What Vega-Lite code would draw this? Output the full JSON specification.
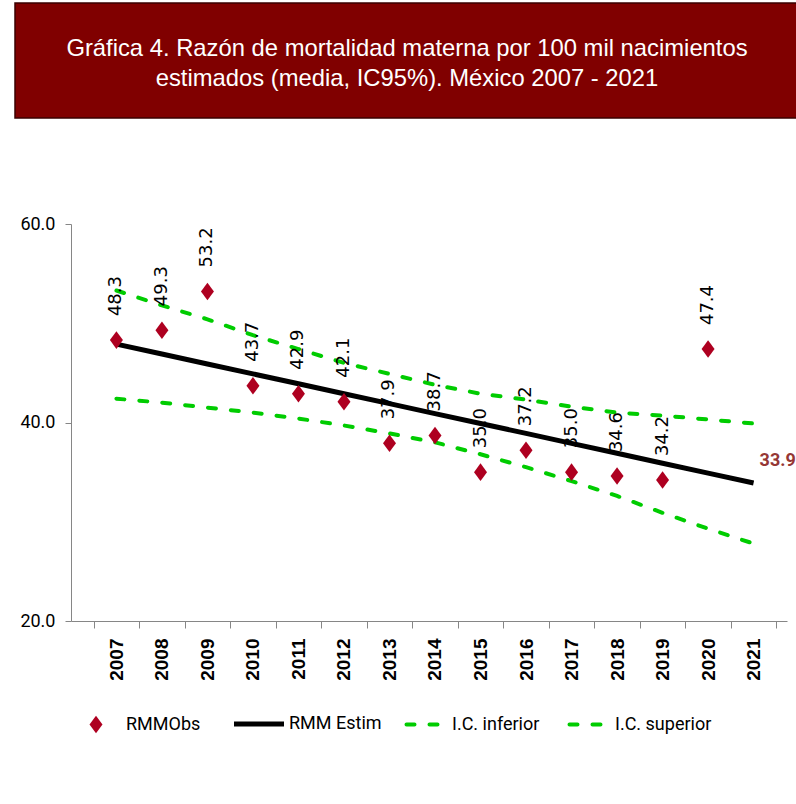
{
  "$schema": "https://vega.github.io/schema/vega-lite/v6.json",
  "background": "white",
  "padding": {"left": 6, "top": 2, "right": 0, "bottom": 0},
  "spacing": 96,
  "config": {"view": {"stroke": null}},
  "vconcat": [
    {
      "width": 784,
      "height": 115,
      "view": {"fill": "#800000", "stroke": "#3a0000", "strokeWidth": 1.5},
      "data": {"values": [
        {"linea": 1, "texto": "Gráfica 4. Razón de mortalidad materna por 100 mil nacimientos"},
        {"linea": 2, "texto": "estimados (media, IC95%). México 2007 - 2021"}
      ]},
      "mark": {"type": "text", "clip": true, "color": "#ffffff", "font": "Liberation Sans", "fontSize": 23.8, "baseline": "middle", "align": "center"},
      "encoding": {
        "y": {"field": "linea", "type": "ordinal", "axis": null, "scale": {"type": "point", "range": [46, 76], "padding": 0}},
        "text": {"field": "texto"}
      }
    },
    {
      "width": 772,
      "height": 397,
      "data": {"values": [
        {"anio": "2007", "serie": "RMMObs", "valor": 48.3},
        {"anio": "2008", "serie": "RMMObs", "valor": 49.3},
        {"anio": "2009", "serie": "RMMObs", "valor": 53.2},
        {"anio": "2010", "serie": "RMMObs", "valor": 43.7},
        {"anio": "2011", "serie": "RMMObs", "valor": 42.9},
        {"anio": "2012", "serie": "RMMObs", "valor": 42.1},
        {"anio": "2013", "serie": "RMMObs", "valor": 37.9},
        {"anio": "2014", "serie": "RMMObs", "valor": 38.7},
        {"anio": "2015", "serie": "RMMObs", "valor": 35.0},
        {"anio": "2016", "serie": "RMMObs", "valor": 37.2},
        {"anio": "2017", "serie": "RMMObs", "valor": 35.0},
        {"anio": "2018", "serie": "RMMObs", "valor": 34.6},
        {"anio": "2019", "serie": "RMMObs", "valor": 34.2},
        {"anio": "2020", "serie": "RMMObs", "valor": 47.4},
        {"anio": "2007", "serie": "RMM Estim", "valor": 47.9},
        {"anio": "2008", "serie": "RMM Estim", "valor": 46.9},
        {"anio": "2009", "serie": "RMM Estim", "valor": 45.9},
        {"anio": "2010", "serie": "RMM Estim", "valor": 44.9},
        {"anio": "2011", "serie": "RMM Estim", "valor": 43.9},
        {"anio": "2012", "serie": "RMM Estim", "valor": 42.9},
        {"anio": "2013", "serie": "RMM Estim", "valor": 41.9},
        {"anio": "2014", "serie": "RMM Estim", "valor": 40.9},
        {"anio": "2015", "serie": "RMM Estim", "valor": 39.9},
        {"anio": "2016", "serie": "RMM Estim", "valor": 38.9},
        {"anio": "2017", "serie": "RMM Estim", "valor": 37.9},
        {"anio": "2018", "serie": "RMM Estim", "valor": 36.9},
        {"anio": "2019", "serie": "RMM Estim", "valor": 35.9},
        {"anio": "2020", "serie": "RMM Estim", "valor": 34.9},
        {"anio": "2021", "serie": "RMM Estim", "valor": 33.9},
        {"anio": "2007", "serie": "I.C. inferior", "valor": 42.4},
        {"anio": "2008", "serie": "I.C. inferior", "valor": 42.0},
        {"anio": "2009", "serie": "I.C. inferior", "valor": 41.5},
        {"anio": "2010", "serie": "I.C. inferior", "valor": 41.0},
        {"anio": "2011", "serie": "I.C. inferior", "valor": 40.4},
        {"anio": "2012", "serie": "I.C. inferior", "valor": 39.7},
        {"anio": "2013", "serie": "I.C. inferior", "valor": 38.9},
        {"anio": "2014", "serie": "I.C. inferior", "valor": 38.0},
        {"anio": "2015", "serie": "I.C. inferior", "valor": 36.8},
        {"anio": "2016", "serie": "I.C. inferior", "valor": 35.5},
        {"anio": "2017", "serie": "I.C. inferior", "valor": 34.1},
        {"anio": "2018", "serie": "I.C. inferior", "valor": 32.6},
        {"anio": "2019", "serie": "I.C. inferior", "valor": 30.9},
        {"anio": "2020", "serie": "I.C. inferior", "valor": 29.3},
        {"anio": "2021", "serie": "I.C. inferior", "valor": 27.8},
        {"anio": "2007", "serie": "I.C. superior", "valor": 53.3},
        {"anio": "2008", "serie": "I.C. superior", "valor": 51.8},
        {"anio": "2009", "serie": "I.C. superior", "valor": 50.4},
        {"anio": "2010", "serie": "I.C. superior", "valor": 48.8},
        {"anio": "2011", "serie": "I.C. superior", "valor": 47.4},
        {"anio": "2012", "serie": "I.C. superior", "valor": 46.0},
        {"anio": "2013", "serie": "I.C. superior", "valor": 44.9},
        {"anio": "2014", "serie": "I.C. superior", "valor": 43.8},
        {"anio": "2015", "serie": "I.C. superior", "valor": 42.9},
        {"anio": "2016", "serie": "I.C. superior", "valor": 42.3},
        {"anio": "2017", "serie": "I.C. superior", "valor": 41.6},
        {"anio": "2018", "serie": "I.C. superior", "valor": 41.0},
        {"anio": "2019", "serie": "I.C. superior", "valor": 40.7},
        {"anio": "2020", "serie": "I.C. superior", "valor": 40.3},
        {"anio": "2021", "serie": "I.C. superior", "valor": 39.9}
      ]},
      "encoding": {
        "x": {
          "field": "anio", "type": "ordinal",
          "scale": {"type": "band", "range": [56, 772], "paddingInner": 0, "paddingOuter": 0.366, "align": 0.68},
          "axis": {
            "title": null, "tickBand": "extent", "tickSize": 7, "tickColor": "#868686", "domainColor": "#868686",
            "labelAngle": 270, "labelFont": "Liberation Sans", "labelFontWeight": "bold",
            "labelFontSize": 19, "labelColor": "#000000", "labelPadding": 10
          }
        },
        "y": {
          "field": "valor", "type": "quantitative",
          "scale": {"domain": [20, 60], "nice": false, "zero": false},
          "axis": {
            "title": null, "values": [20, 40, 60], "format": ".1f", "grid": false, "offset": -56, "minExtent": 0,
            "tickSize": 6, "tickColor": "#868686", "domainColor": "#868686",
            "labelFont": "Roboto",
            "labelFontSize": 18, "labelColor": "#000000", "labelPadding": 10
          }
        }
      },
      "layer": [
        {
          "transform": [{"filter": "datum.serie === 'I.C. inferior' || datum.serie === 'I.C. superior'"}],
          "mark": {"type": "line", "strokeWidth": 4, "strokeDash": [8, 15], "strokeCap": "round"},
          "encoding": {"color": {"field": "serie", "type": "nominal", "scale": {"domain": ["RMMObs", "RMM Estim", "I.C. inferior", "I.C. superior"], "range": ["#AE0020", "#000000", "#00CC00", "#00CC00"]},
            "legend": {
              "title": null, "orient": "none", "legendX": 56, "legendY": 712, "direction": "horizontal",
              "columns": 4, "gridAlign": "all",
              "labelFont": "Roboto",
              "labelFontSize": 18, "labelColor": "#000000", "columnPadding": 1,
              "symbolOffset": 16, "labelOffset": 21,
              "encode": {"symbols": {"update": {
                "shape": {"signal": "datum.value === 'RMMObs' ? 'M0,-1.35L1,0L0,1.35L-1,0Z' : 'stroke'"},
                "size": {"signal": "datum.value === 'RMMObs' ? 169 : (datum.value === 'RMM Estim' ? 2500 : 961)"},
                "strokeDash": {"signal": "(datum.value === 'I.C. inferior' || datum.value === 'I.C. superior') ? [8, 15] : [1, 0]"},
                "strokeWidth": {"signal": "datum.value === 'RMMObs' ? 0 : (datum.value === 'RMM Estim' ? 5 : 4)"},
                "fill": {"signal": "datum.value === 'RMMObs' ? '#AE0020' : 'transparent'"},
                "stroke": {"signal": "datum.value === 'RMMObs' ? 'transparent' : (datum.value === 'RMM Estim' ? '#000000' : '#00CC00')"},
                "strokeCap": {"signal": "datum.value === 'RMM Estim' ? 'butt' : 'round'"},
                "opacity": {"value": 1}
              }}}
            }
          }}
        },
        {
          "transform": [{"filter": "datum.serie === 'RMM Estim'"}],
          "mark": {"type": "line", "strokeWidth": 5},
          "encoding": {"color": {"field": "serie", "type": "nominal"}}
        },
        {
          "transform": [{"filter": "datum.serie === 'RMMObs'"}],
          "mark": {"type": "point", "shape": "M0,-1.35L1,0L0,1.35L-1,0Z", "filled": true, "size": 169, "opacity": 1},
          "encoding": {"color": {"field": "serie", "type": "nominal"}}
        },
        {
          "transform": [{"filter": "datum.serie === 'RMMObs'"}],
          "mark": {"type": "text", "angle": 270, "align": "left", "baseline": "middle", "dx": 24, "font": "DejaVu Sans", "fontSize": 18, "color": "#000000"},
          "encoding": {"text": {"field": "valor", "type": "quantitative", "format": ".1f"}}
        },
        {
          "transform": [{"filter": "datum.serie === 'RMM Estim' && datum.anio === '2021'"}],
          "mark": {"type": "text", "align": "left", "baseline": "middle", "dx": 6, "dy": -22, "font": "Roboto", "fontSize": 18, "fontWeight": "bold", "color": "#953735"},
          "encoding": {"text": {"field": "valor", "type": "quantitative", "format": ".1f"}}
        }
      ]
    }
  ]
}
